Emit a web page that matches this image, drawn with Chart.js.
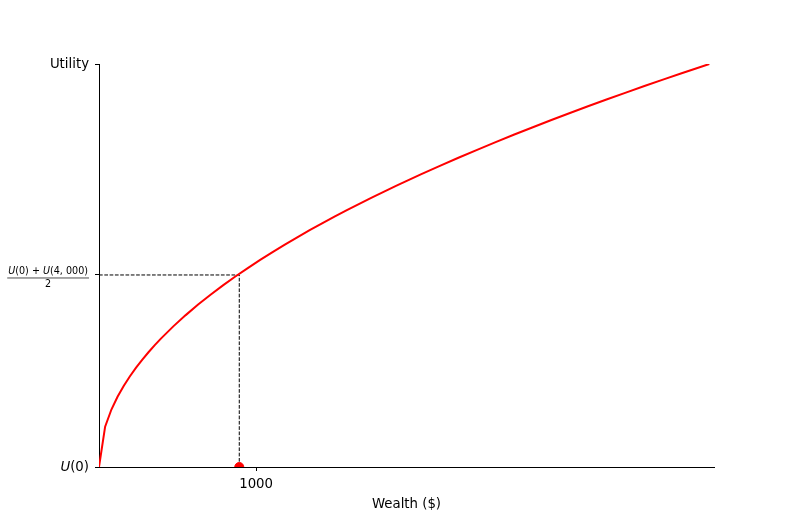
<!DOCTYPE html>
<html>
<head>
<meta charset="utf-8">
<script src="https://cdn.jsdelivr.net/npm/chart.js@4"></script>
<style>
html,body{margin:0;padding:0;background:#fff;}
#wrap{width:793px;height:525px;position:relative;}
</style>
</head>
<body>
<div id="wrap"><canvas id="c" width="793" height="525"></canvas></div>
<script>
// Utility curve
const wealth = [0, 39, 79, 118, 158, 197, 236, 276, 315, 355, 394, 473, 552, 631, 710, 789, 868, 947, 1026, 1105, 1183, 1262, 1341, 1420, 1499, 1578, 1657, 1736, 1815, 1894, 1973, 2052, 2170, 2288, 2407, 2525, 2644, 2762, 2880, 2998, 3117, 3235, 3354, 3472, 3590, 3709, 3800, 3885];
const utility = [0, 6.24, 8.89, 10.86, 12.57, 14.04, 15.36, 16.61, 17.75, 18.84, 19.85, 21.75, 23.49, 25.12, 26.65, 28.09, 29.46, 30.77, 32.03, 33.24, 34.39, 35.52, 36.62, 37.68, 38.72, 39.72, 40.71, 41.67, 42.60, 43.52, 44.42, 45.30, 46.58, 47.83, 49.06, 50.25, 51.42, 52.55, 53.67, 54.75, 55.83, 56.88, 57.91, 58.92, 59.92, 60.90, 61.64, 62.33];
// certainty-equivalent marker
const ceWealth = 893;
const midUtility = 29.7;
// axes
const xMin = 0, xMax = 3915;
const yMin = 0, yMax = 62.33;
const xTickValues = [1000];
const xTickLabels = ['1000'];
const yTickValues = [0, midUtility, yMax];
const yTickLabels = ['U(0)', 'U(0) + U(4, 000)', 'Utility'];
const xTitle = 'Wealth ($)';

const FONT = 'DejaVu Sans';

const curve = wealth.map((w, i) => ({x: w, y: utility[i]}));
const guide = [{x: xMin, y: midUtility}, {x: ceWealth, y: midUtility}, {x: ceWealth, y: yMin}];

const yLabelPlugin = {
  id: 'yLabels',
  afterDraw(chart) {
    const ctx = chart.ctx;
    const ys = chart.scales.y;
    const right = ys.right - 10;
    ctx.save();
    ctx.fillStyle = '#000';
    ctx.textBaseline = 'middle';
    ctx.textAlign = 'right';
    // top: Utility
    ctx.font = '13.3px "' + FONT + '"';
    ctx.fillText(yTickLabels[2], right, ys.getPixelForValue(yTickValues[2]) + 1);
    // bottom: U(0) with italic U
    const y0 = ys.getPixelForValue(yTickValues[0]);
    ctx.font = '13.3px "' + FONT + '"';
    const rest = '(0)';
    const wRest = ctx.measureText(rest).width;
    ctx.fillText(rest, right, y0 + 1);
    ctx.font = 'oblique 13.3px "' + FONT + '"';
    ctx.fillText('U', right - wRest, y0 + 1);
    // middle: fraction
    const ym = ys.getPixelForValue(yTickValues[1]);
    const fs = 9.6;
    const parts = [['U', true], ['(0) + ', false], ['U', true], ['(4, 000)', false]];
    let total = 0;
    const widths = parts.map(p => {
      ctx.font = (p[1] ? 'oblique ' : '') + fs + 'px "' + FONT + '"';
      const w = ctx.measureText(p[0]).width;
      total += w;
      return w;
    });
    const barRight = right;
    const barLeft = right - total - 2;
    ctx.textAlign = 'left';
    ctx.textBaseline = 'alphabetic';
    let x = barLeft + 1;
    parts.forEach((p, i) => {
      ctx.font = (p[1] ? 'oblique ' : '') + fs + 'px "' + FONT + '"';
      ctx.fillText(p[0], x, ym - 0.5);
      x += widths[i];
    });
    ctx.strokeStyle = '#000';
    ctx.lineWidth = 0.7;
    ctx.beginPath();
    ctx.moveTo(barLeft, ym + 3);
    ctx.lineTo(barRight, ym + 3);
    ctx.stroke();
    ctx.font = fs + 'px "' + FONT + '"';
    ctx.textAlign = 'center';
    ctx.textBaseline = 'top';
    ctx.fillText('2', (barLeft + barRight) / 2, ym + 4.5);
    ctx.restore();
  }
};

new Chart(document.getElementById('c'), {
  type: 'scatter',
  data: {
    datasets: [
      {
        label: 'guide',
        data: guide,
        showLine: true,
        borderColor: '#000',
        borderWidth: 1,
        borderDash: [3.7, 1.6],
        pointRadius: 0,
        fill: false,
        order: 3
      },
      {
        label: 'utility',
        data: curve,
        showLine: true,
        borderColor: '#ff0000',
        borderWidth: 2,
        pointRadius: 0,
        tension: 0,
        fill: false,
        order: 2
      },
      {
        label: 'ce',
        data: [{x: ceWealth, y: yMin}],
        pointRadius: 4.5,
        pointBackgroundColor: '#ff0000',
        pointBorderColor: '#ff0000',
        pointBorderWidth: 1,
        clip: 0,
        order: 1
      }
    ]
  },
  options: {
    responsive: false,
    animation: false,
    devicePixelRatio: 1,
    layout: {padding: {top: 64, right: 79, bottom: 0, left: 0}},
    plugins: {legend: {display: false}, tooltip: {enabled: false}},
    scales: {
      x: {
        type: 'linear',
        min: xMin, max: xMax,
        afterBuildTicks: s => { s.ticks = xTickValues.map(v => ({value: v})); },
        afterFit: s => { s.height = 58; },
        ticks: {
          color: '#000',
          font: {family: FONT, size: 13.3},
          padding: 6,
          maxRotation: 0,
          callback: v => { const i = xTickValues.indexOf(v); return i >= 0 ? xTickLabels[i] : ''; }
        },
        grid: {display: true, drawOnChartArea: false, drawTicks: true, tickLength: 4, color: '#000', lineWidth: 1},
        border: {display: true, color: '#000', width: 1},
        title: {display: true, text: xTitle, color: '#000', font: {family: FONT, size: 13.3}, padding: {top: 0, bottom: 12}}
      },
      y: {
        type: 'linear',
        min: yMin, max: yMax,
        afterBuildTicks: s => { s.ticks = yTickValues.map(v => ({value: v})); },
        afterFit: s => { s.width = 99; },
        ticks: {display: false},
        grid: {display: true, drawOnChartArea: false, drawTicks: true, tickLength: 4, color: '#000', lineWidth: 1},
        border: {display: true, color: '#000', width: 1}
      }
    }
  },
  plugins: [yLabelPlugin]
});
</script>
</body>
</html>
